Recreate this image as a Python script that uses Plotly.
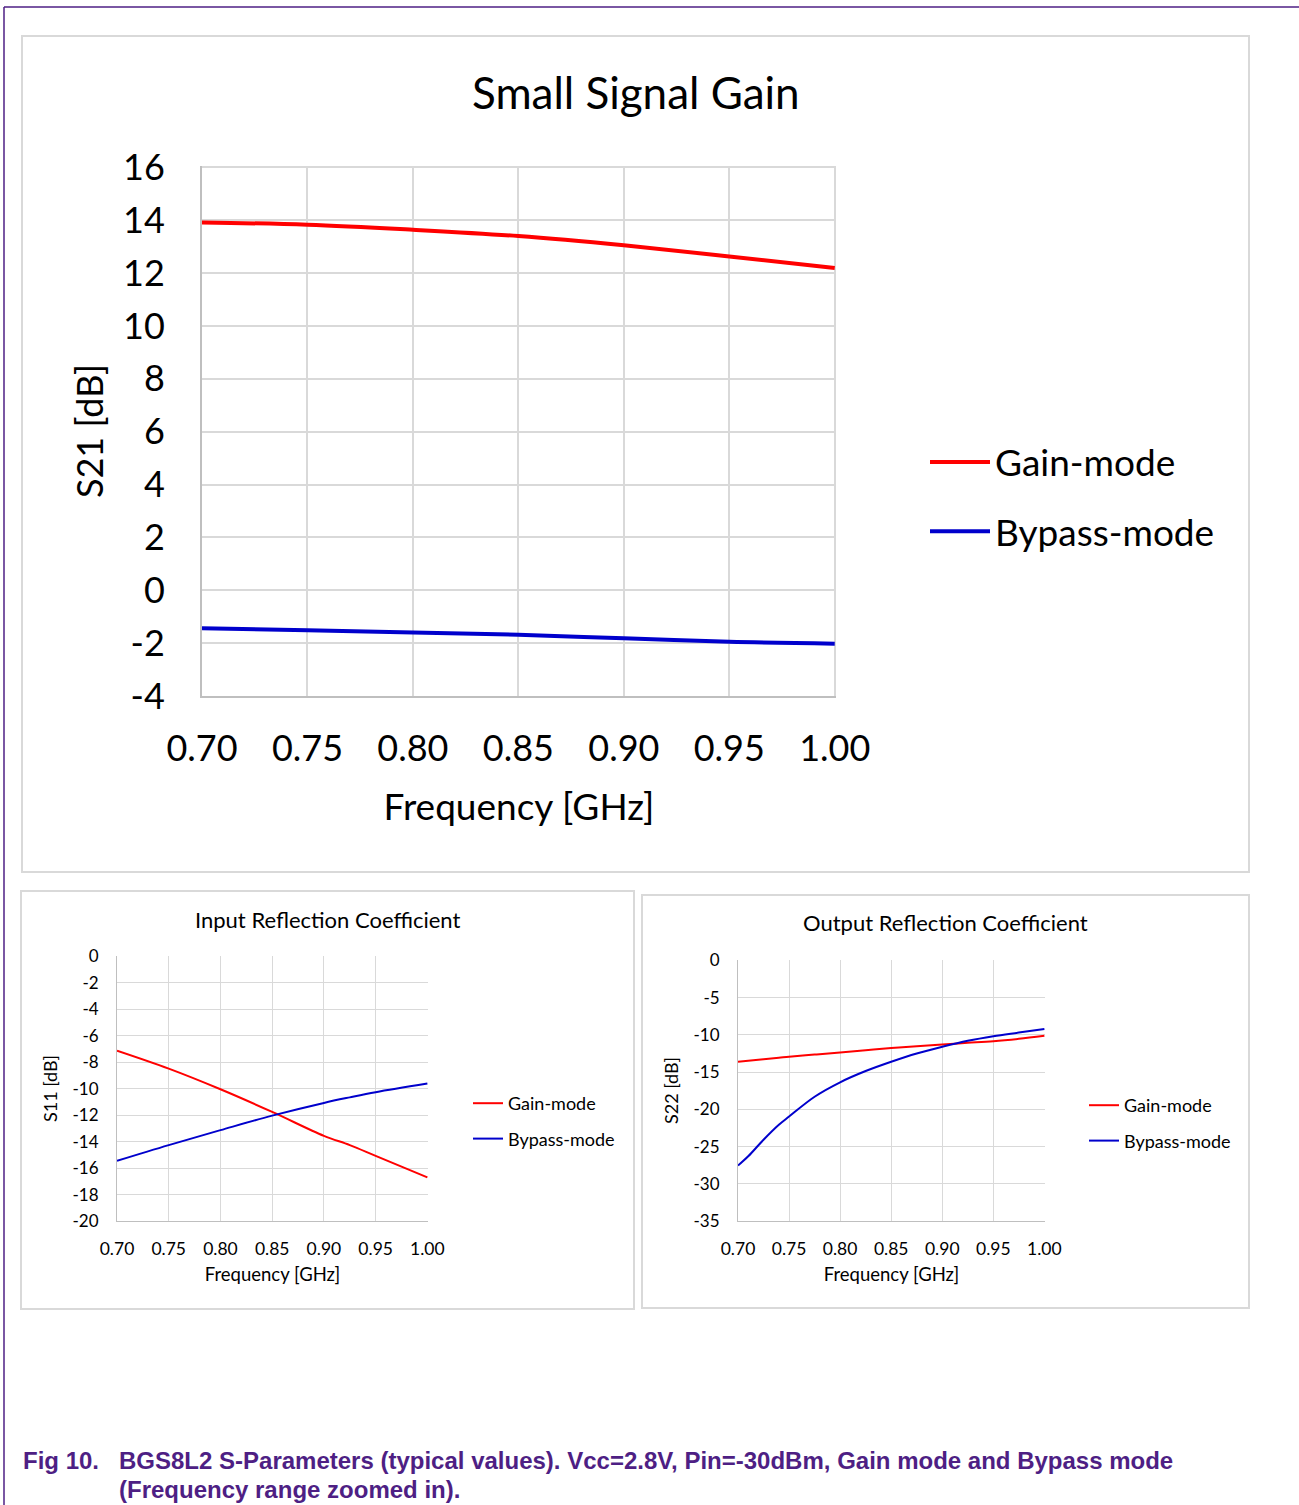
import plotly.graph_objects as go

W, H = 1299, 1505

# ---------------- data ----------------
freq = [0.70, 0.75, 0.80, 0.85, 0.90, 0.95, 1.00]
s21_gain = [13.91, 13.83, 13.64, 13.40, 13.05, 12.63, 12.19]
s21_bypass = [-1.44, -1.51, -1.60, -1.68, -1.82, -1.95, -2.02]

s11_freq = [0.70, 0.75, 0.80, 0.85, 0.90, 0.925, 0.95, 1.00]
s11_gain = [-7.12, -8.48, -10.04, -11.75, -13.56, -14.26, -15.07, -16.70]
s11_bypass = [-15.45, -14.26, -13.13, -12.03, -11.07, -10.65, -10.26, -9.61]

s22_freq = [0.70, 0.71, 0.725, 0.74, 0.75, 0.775, 0.80, 0.825, 0.85, 0.875, 0.90, 0.925, 0.95, 0.975, 1.00]
s22_gain = [-13.60, -13.47, -13.27, -13.07, -12.93, -12.64, -12.35, -12.06, -11.77, -11.52, -11.28, -11.06, -10.84, -10.52, -10.12]
s22_bypass = [-27.55, -26.31, -24.08, -22.07, -20.96, -18.30, -16.36, -14.85, -13.60, -12.49, -11.59, -10.79, -10.17, -9.68, -9.19]

x_ticks = [0.70, 0.75, 0.80, 0.85, 0.90, 0.95, 1.00]
x_ticklabels = ["0.70", "0.75", "0.80", "0.85", "0.90", "0.95", "1.00"]
s21_ticks = [-4, -2, 0, 2, 4, 6, 8, 10, 12, 14, 16]
s21_ticklabels = ["-4", "-2", "0", "2", "4", "6", "8", "10", "12", "14", "16"]
s11_ticks = [-20, -18, -16, -14, -12, -10, -8, -6, -4, -2, 0]
s11_ticklabels = ["-20", "-18", "-16", "-14", "-12", "-10", "-8", "-6", "-4", "-2", "0"]
s22_ticks = [-35, -30, -25, -20, -15, -10, -5, 0]
s22_ticklabels = ["-35", "-30", "-25", "-20", "-15", "-10", "-5", "0"]

RED = "#FF0000"
BLUE = "#0000CC"
GRID = "#D9D9D9"
AXL = "#BFBFBF"
PURPLE = "#4E1F84"
FONT = "Lato, Open Sans, sans-serif"


def px(x):
    return x / W


def py(y):
    return 1 - y / H


fig = go.Figure()

# top chart traces
fig.add_trace(go.Scatter(x=freq, y=s21_gain, name="Gain-mode", mode="lines",
                         line=dict(color=RED, width=4, shape="spline"),
                         xaxis="x", yaxis="y", legend="legend", legendgroup="g1"))
fig.add_trace(go.Scatter(x=freq, y=s21_bypass, name="Bypass-mode", mode="lines",
                         line=dict(color=BLUE, width=4, shape="spline"),
                         xaxis="x", yaxis="y", legend="legend", legendgroup="b1"))
# S11
fig.add_trace(go.Scatter(x=s11_freq, y=s11_gain, name="Gain-mode", mode="lines",
                         line=dict(color=RED, width=2, shape="spline"),
                         xaxis="x2", yaxis="y2", legend="legend2", legendgroup="g2"))
fig.add_trace(go.Scatter(x=s11_freq, y=s11_bypass, name="Bypass-mode", mode="lines",
                         line=dict(color=BLUE, width=2, shape="spline"),
                         xaxis="x2", yaxis="y2", legend="legend2", legendgroup="b2"))
# S22
fig.add_trace(go.Scatter(x=s22_freq, y=s22_gain, name="Gain-mode", mode="lines",
                         line=dict(color=RED, width=2, shape="spline"),
                         xaxis="x3", yaxis="y3", legend="legend3", legendgroup="g3"))
fig.add_trace(go.Scatter(x=s22_freq, y=s22_bypass, name="Bypass-mode", mode="lines",
                         line=dict(color=BLUE, width=2, shape="spline"),
                         xaxis="x3", yaxis="y3", legend="legend3", legendgroup="b3"))


def xax(domain, anchor, fs, standoff, title_fs, title_standoff, big):
    return dict(domain=domain, anchor=anchor, range=[0.70, 1.0006],
                tickvals=x_ticks, ticktext=x_ticklabels, automargin=False,
                showgrid=True, gridcolor=GRID, gridwidth=2 if big else 1,
                showline=True, linecolor=AXL, linewidth=2 if big else 1,
                zeroline=False, ticks="", ticklabelstandoff=standoff,
                tickfont=dict(size=fs, color="#000000", family=FONT),
                title=dict(text="Frequency [GHz]", standoff=title_standoff,
                           font=dict(size=title_fs, color="#000000", family=FONT)),
                fixedrange=True)


def yax(domain, anchor, rng, tv, tt, fs, standoff, title, title_fs, title_standoff, big):
    return dict(domain=domain, anchor=anchor, range=rng, tickvals=tv, ticktext=tt,
                automargin=False,
                showgrid=True, gridcolor=GRID, gridwidth=2 if big else 1,
                showline=True, linecolor=AXL, linewidth=2 if big else 1,
                zeroline=False, ticks="", ticklabelstandoff=standoff,
                tickfont=dict(size=fs, color="#000000", family=FONT),
                title=dict(text=title, standoff=title_standoff,
                           font=dict(size=title_fs, color="#000000", family=FONT)),
                fixedrange=True)


fig.update_layout(
    template="none",
    width=W, height=H,
    margin=dict(l=0, r=0, t=0, b=0, pad=0, autoexpand=False),
    paper_bgcolor="white", plot_bgcolor="white",
    font=dict(family=FONT, color="#000000"),
    xaxis=xax([px(202), px(836)], "y", 36, 20, 37, 26, True),
    yaxis=yax([py(696), py(166)], "x", [-4, 16.05], s21_ticks, s21_ticklabels, 36, 28, "S21 [dB]", 36, 8, True),
    xaxis2=xax([px(117), px(428)], "y2", 17.5, 12, 18.5, 10, False),
    yaxis2=yax([py(1221), py(956)], "x2", [-20, 0.04], s11_ticks, s11_ticklabels, 17, 14, "S11 [dB]", 18, 10, False),
    xaxis3=xax([px(738), px(1045)], "y3", 17.5, 12, 18.5, 10, False),
    yaxis3=yax([py(1221), py(960)], "x3", [-35, 0.07], s22_ticks, s22_ticklabels, 17, 14, "S22 [dB]", 18, 10, False),
    legend=dict(x=px(925), y=py(497), xanchor="left", yanchor="middle",
                font=dict(size=37, family=FONT, color="#000000"),
                bgcolor="rgba(0,0,0,0)", tracegroupgap=18, itemwidth=60),
    legend2=dict(x=px(468), y=py(1121), xanchor="left", yanchor="middle",
                 font=dict(size=18, family=FONT, color="#000000"),
                 bgcolor="rgba(0,0,0,0)", tracegroupgap=9, itemwidth=30),
    legend3=dict(x=px(1084), y=py(1123), xanchor="left", yanchor="middle",
                 font=dict(size=18, family=FONT, color="#000000"),
                 bgcolor="rgba(0,0,0,0)", tracegroupgap=9, itemwidth=30),
    showlegend=True,
)

# chart frames
frames = [(22, 36, 1249, 872), (21, 891, 634, 1309), (642, 895, 1249, 1308)]
for x0, y0, x1, y1 in frames:
    fig.add_shape(type="rect", xref="paper", yref="paper",
                  x0=px(x0), x1=px(x1), y0=py(y0), y1=py(y1),
                  line=dict(color=GRID, width=2), layer="below")

# purple page border lines
fig.add_shape(type="line", xref="paper", yref="paper", x0=px(4), x1=1, y0=py(7), y1=py(7),
              line=dict(color=PURPLE, width=1.5))
fig.add_shape(type="line", xref="paper", yref="paper", x0=px(4), x1=px(4), y0=py(7), y1=0,
              line=dict(color=PURPLE, width=1.5))

# chart titles
fig.add_annotation(text="Small Signal Gain", x=px(636), y=py(92), xref="paper", yref="paper",
                   showarrow=False, xanchor="center", yanchor="middle",
                   font=dict(size=44, family=FONT, color="#000000"))
fig.add_annotation(text="Input Reflection Coefficient", x=px(327), y=py(919), xref="paper", yref="paper",
                   showarrow=False, xanchor="center", yanchor="middle",
                   font=dict(size=22, family=FONT, color="#000000"))
fig.add_annotation(text="Output Reflection Coefficient", x=px(945), y=py(922), xref="paper", yref="paper",
                   showarrow=False, xanchor="center", yanchor="middle",
                   font=dict(size=22, family=FONT, color="#000000"))

# caption
CAP_FONT = "Liberation Sans, Arial, sans-serif"
fig.add_annotation(text="<b>Fig 10.</b>", x=px(21), y=py(1460), xref="paper", yref="paper",
                   showarrow=False, xanchor="left", yanchor="middle",
                   font=dict(size=24, family=CAP_FONT, color=PURPLE))
fig.add_annotation(text="<b>BGS8L2 S-Parameters (typical values). Vcc=2.8V, Pin=-30dBm, Gain mode and Bypass mode</b>",
                   x=px(117), y=py(1460), xref="paper", yref="paper",
                   showarrow=False, xanchor="left", yanchor="middle",
                   font=dict(size=24, family=CAP_FONT, color=PURPLE))
fig.add_annotation(text="<b>(Frequency range zoomed in).</b>",
                   x=px(117), y=py(1489), xref="paper", yref="paper",
                   showarrow=False, xanchor="left", yanchor="middle",
                   font=dict(size=24, family=CAP_FONT, color=PURPLE))

fig.write_html("out.html", config={"displayModeBar": False},
               post_script="document.body.style.margin='0px';")
